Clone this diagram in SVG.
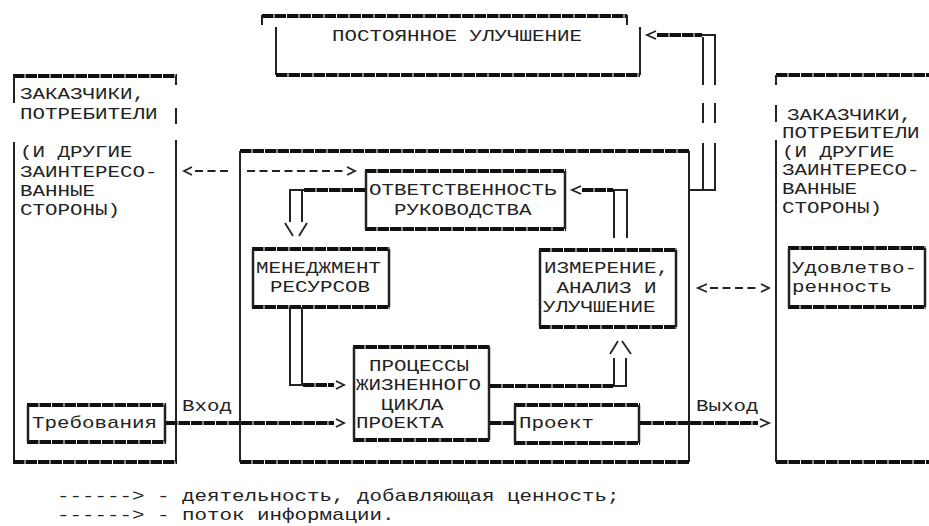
<svg xmlns="http://www.w3.org/2000/svg" width="929" height="526" viewBox="0 0 929 526">
<style>
.t{font-family:"Liberation Mono","Courier New",monospace;font-size:17px;fill:#222}
.thick{stroke:#111;stroke-width:3.8;stroke-dasharray:11.5 1;fill:none}
.thin{stroke:#222;stroke-width:2;fill:none}
.side{stroke:#222;stroke-width:2.5;fill:none}
.dash{stroke:#222;stroke-width:1.8;stroke-dasharray:8 4.5;fill:none}
.head{stroke:#222;stroke-width:1.8;fill:none}
</style>
<rect width="929" height="526" fill="#fff"/>

<g id="node-improvement">
<line class="thick" x1="262" y1="16" x2="627" y2="16"/>
<line class="thin" x1="262" y1="15" x2="262" y2="25"/>
<line class="thin" x1="627" y1="15" x2="627" y2="25"/>
<line class="thin" x1="276" y1="27" x2="276" y2="75"/>
<line class="thin" x1="640" y1="27" x2="640" y2="75"/>
<line class="thick" x1="276" y1="75" x2="640" y2="75"/>
<text class="t" x="332" y="41" textLength="250" lengthAdjust="spacingAndGlyphs">ПОСТОЯННОЕ УЛУЧШЕНИЕ</text>
</g>

<g id="node-customers-left">
<line class="thick" x1="13" y1="76" x2="177" y2="76"/>
<line class="thin" x1="14" y1="76" x2="14" y2="103"/>
<line class="thin" x1="14" y1="142" x2="14" y2="462"/>
<line class="thin" x1="176" y1="76" x2="176" y2="85"/>
<line class="thin" x1="176" y1="108" x2="176" y2="124"/>
<line class="thin" x1="176" y1="140" x2="176" y2="462"/>
<line class="thick" x1="13" y1="462" x2="177" y2="462"/>
<text class="t" x="20" y="99" textLength="125" lengthAdjust="spacingAndGlyphs">ЗАКАЗЧИКИ,</text>
<text class="t" x="20" y="119" textLength="137.5" lengthAdjust="spacingAndGlyphs">ПОТРЕБИТЕЛИ</text>
<text class="t" x="20" y="157" textLength="112.5" lengthAdjust="spacingAndGlyphs">(И ДРУГИЕ</text>
<text class="t" x="20" y="177" textLength="137.5" lengthAdjust="spacingAndGlyphs">ЗАИНТЕРЕСО-</text>
<text class="t" x="20" y="196" textLength="75" lengthAdjust="spacingAndGlyphs">ВАННЫЕ</text>
<text class="t" x="20" y="215" textLength="100" lengthAdjust="spacingAndGlyphs">СТОРОНЫ)</text>
</g>

<g id="node-requirements">
<line class="thick" x1="27" y1="405" x2="166" y2="405"/>
<line class="thick" x1="27" y1="442" x2="166" y2="442"/>
<line class="side" x1="28" y1="405" x2="28" y2="442"/>
<line class="side" x1="165" y1="405" x2="165" y2="442"/>
<text class="t" x="32" y="428" textLength="125" lengthAdjust="spacingAndGlyphs">Требования</text>
</g>

<g id="node-organization">
<line class="thick" x1="240" y1="151" x2="689" y2="151"/>
<line class="thin" x1="240" y1="151" x2="240" y2="462"/>
<line class="thin" x1="689" y1="151" x2="689" y2="462"/>
<line class="thick" x1="240" y1="462" x2="689" y2="462"/>
</g>

<g id="node-management">
<line class="thick" x1="365" y1="171" x2="566" y2="171"/>
<line class="thick" x1="365" y1="229" x2="566" y2="229"/>
<line class="side" x1="366" y1="171" x2="366" y2="229"/>
<line class="side" x1="565" y1="171" x2="565" y2="229"/>
<text class="t" x="369" y="195" textLength="187.5" lengthAdjust="spacingAndGlyphs">ОТВЕТСТВЕННОСТЬ</text>
<text class="t" x="394" y="215" textLength="137.5" lengthAdjust="spacingAndGlyphs">РУКОВОДСТВА</text>
</g>

<g id="node-resources">
<line class="thick" x1="252" y1="249" x2="390" y2="249"/>
<line class="thick" x1="252" y1="307" x2="390" y2="307"/>
<line class="side" x1="253" y1="249" x2="253" y2="307"/>
<line class="side" x1="389" y1="249" x2="389" y2="307"/>
<text class="t" x="256" y="273" textLength="125" lengthAdjust="spacingAndGlyphs">МЕНЕДЖМЕНТ</text>
<text class="t" x="270" y="292" textLength="100" lengthAdjust="spacingAndGlyphs">РЕСУРСОВ</text>
</g>

<g id="node-measurement">
<line class="thick" x1="539" y1="250" x2="677" y2="250"/>
<line class="thick" x1="539" y1="327" x2="677" y2="327"/>
<line class="side" x1="540" y1="250" x2="540" y2="327"/>
<line class="side" x1="676" y1="250" x2="676" y2="327"/>
<text class="t" x="544" y="273" textLength="125" lengthAdjust="spacingAndGlyphs">ИЗМЕРЕНИЕ,</text>
<text class="t" x="556.5" y="293" textLength="100" lengthAdjust="spacingAndGlyphs">АНАЛИЗ И</text>
<text class="t" x="543" y="312" textLength="112.5" lengthAdjust="spacingAndGlyphs">УЛУЧШЕНИЕ</text>
</g>

<g id="node-processes">
<line class="thick" x1="353" y1="347" x2="490" y2="347"/>
<line class="thick" x1="353" y1="440" x2="490" y2="440"/>
<line class="side" x1="354" y1="347" x2="354" y2="440"/>
<line class="side" x1="489" y1="347" x2="489" y2="440"/>
<text class="t" x="369" y="371" textLength="100" lengthAdjust="spacingAndGlyphs">ПРОЦЕССЫ</text>
<text class="t" x="356" y="390" textLength="125" lengthAdjust="spacingAndGlyphs">ЖИЗНЕННОГО</text>
<text class="t" x="381" y="410" textLength="62.5" lengthAdjust="spacingAndGlyphs">ЦИКЛА</text>
<text class="t" x="356" y="428" textLength="87.5" lengthAdjust="spacingAndGlyphs">ПРОЕКТА</text>
</g>

<g id="node-project">
<line class="thick" x1="514" y1="405" x2="640" y2="405"/>
<line class="thick" x1="514" y1="443" x2="640" y2="443"/>
<line class="side" x1="515" y1="405" x2="515" y2="443"/>
<line class="side" x1="639" y1="405" x2="639" y2="443"/>
<text class="t" x="519" y="428" textLength="75" lengthAdjust="spacingAndGlyphs">Проект</text>
</g>

<g id="node-customers-right">
<line class="thick" x1="776" y1="75" x2="929" y2="75"/>
<line class="thin" x1="776" y1="75" x2="776" y2="85"/>
<line class="thin" x1="776" y1="105" x2="776" y2="122"/>
<line class="thin" x1="776" y1="140" x2="776" y2="462"/>
<line class="thick" x1="776" y1="462" x2="929" y2="462"/>
<text class="t" x="787" y="120" textLength="125" lengthAdjust="spacingAndGlyphs">ЗАКАЗЧИКИ,</text>
<text class="t" x="782" y="138" textLength="137.5" lengthAdjust="spacingAndGlyphs">ПОТРЕБИТЕЛИ</text>
<text class="t" x="782" y="157" textLength="112.5" lengthAdjust="spacingAndGlyphs">(И ДРУГИЕ</text>
<text class="t" x="782" y="175" textLength="137.5" lengthAdjust="spacingAndGlyphs">ЗАИНТЕРЕСО-</text>
<text class="t" x="782" y="194" textLength="75" lengthAdjust="spacingAndGlyphs">ВАННЫЕ</text>
<text class="t" x="782" y="213" textLength="100" lengthAdjust="spacingAndGlyphs">СТОРОНЫ)</text>
</g>

<g id="node-satisfaction">
<line class="thick" x1="788" y1="248" x2="926" y2="248"/>
<line class="thick" x1="788" y1="307" x2="926" y2="307"/>
<line class="side" x1="789" y1="248" x2="789" y2="307"/>
<line class="side" x1="925" y1="248" x2="925" y2="307"/>
<text class="t" x="792" y="273" textLength="125" lengthAdjust="spacingAndGlyphs">Удовлетво-</text>
<text class="t" x="792" y="292" textLength="100" lengthAdjust="spacingAndGlyphs">ренность</text>
</g>

<g id="connectors">
<line class="thick" x1="166" y1="423" x2="334" y2="423"/>
<polyline class="head" points="336,419 344,423 336,427"/>
<text class="t" x="182" y="411" textLength="50" lengthAdjust="spacingAndGlyphs">Вход</text>
<line class="thin" x1="290" y1="307" x2="290" y2="386"/>
<line class="thin" x1="302" y1="307" x2="302" y2="386"/>
<line class="thin" x1="289" y1="385" x2="303" y2="385"/>
<line class="thick" x1="303" y1="385" x2="334" y2="385"/>
<polyline class="head" points="336,381 344,385 336,389"/>
<line class="thick" x1="490" y1="423" x2="514" y2="423"/>
<line class="thick" x1="640" y1="423" x2="758" y2="423"/>
<polyline class="head" points="760,419 769,423 760,427"/>
<text class="t" x="696" y="411" textLength="62.5" lengthAdjust="spacingAndGlyphs">Выход</text>
<line class="thick" x1="490" y1="386" x2="613" y2="386"/>
<line class="thin" x1="613" y1="386" x2="626" y2="386"/>
<line class="thin" x1="614" y1="358" x2="614" y2="386"/>
<line class="thin" x1="626" y1="358" x2="626" y2="387"/>
<line class="head" x1="610" y1="354" x2="618" y2="341"/>
<line class="head" x1="622" y1="341" x2="631" y2="354"/>
<line class="thin" x1="614" y1="190" x2="614" y2="238"/>
<line class="thin" x1="627" y1="189" x2="627" y2="238"/>
<line class="thin" x1="613" y1="190" x2="628" y2="190"/>
<line class="thick" x1="582" y1="190" x2="613" y2="190"/>
<polyline class="head" points="581,186 572,190 581,194"/>
<line class="thick" x1="304" y1="190" x2="365" y2="190"/>
<line class="thin" x1="289" y1="190" x2="305" y2="190"/>
<line class="thin" x1="290" y1="189" x2="290" y2="222"/>
<line class="thin" x1="302" y1="190" x2="302" y2="222"/>
<line class="head" x1="285" y1="223" x2="293" y2="236"/>
<line class="head" x1="299" y1="236" x2="307" y2="223"/>
<line class="thin" x1="689" y1="190" x2="716" y2="190"/>
<line class="thin" x1="715" y1="34" x2="715" y2="85"/>
<line class="thin" x1="715" y1="103" x2="715" y2="123"/>
<line class="thin" x1="715" y1="143" x2="715" y2="191"/>
<line class="thin" x1="703" y1="37" x2="703" y2="85"/>
<line class="thin" x1="703" y1="103" x2="703" y2="123"/>
<line class="thin" x1="703" y1="143" x2="703" y2="190"/>
<line class="thick" x1="657" y1="35" x2="702" y2="35"/>
<line class="thin" x1="702" y1="35" x2="716" y2="35"/>
<polyline class="head" points="656,31 647,35 656,39"/>
<polyline class="head" points="192,167 184,171 192,175"/>
<line class="dash" x1="195" y1="171" x2="232" y2="171"/>
<line class="dash" x1="247" y1="171" x2="345" y2="171"/>
<polyline class="head" points="347,167 355,171 347,175"/>
<polyline class="head" points="707,284 698,288 707,292"/>
<line class="dash" x1="710" y1="288" x2="760" y2="288"/>
<polyline class="head" points="761,284 769,288 761,292"/>
</g>

<g id="legend">
<text class="t" x="57" y="501" textLength="562.5" lengthAdjust="spacingAndGlyphs">------&gt; - деятельность, добавляющая ценность;</text>
<text class="t" x="57" y="520" textLength="337.5" lengthAdjust="spacingAndGlyphs">------&gt; - поток информации.</text>
</g>
</svg>
